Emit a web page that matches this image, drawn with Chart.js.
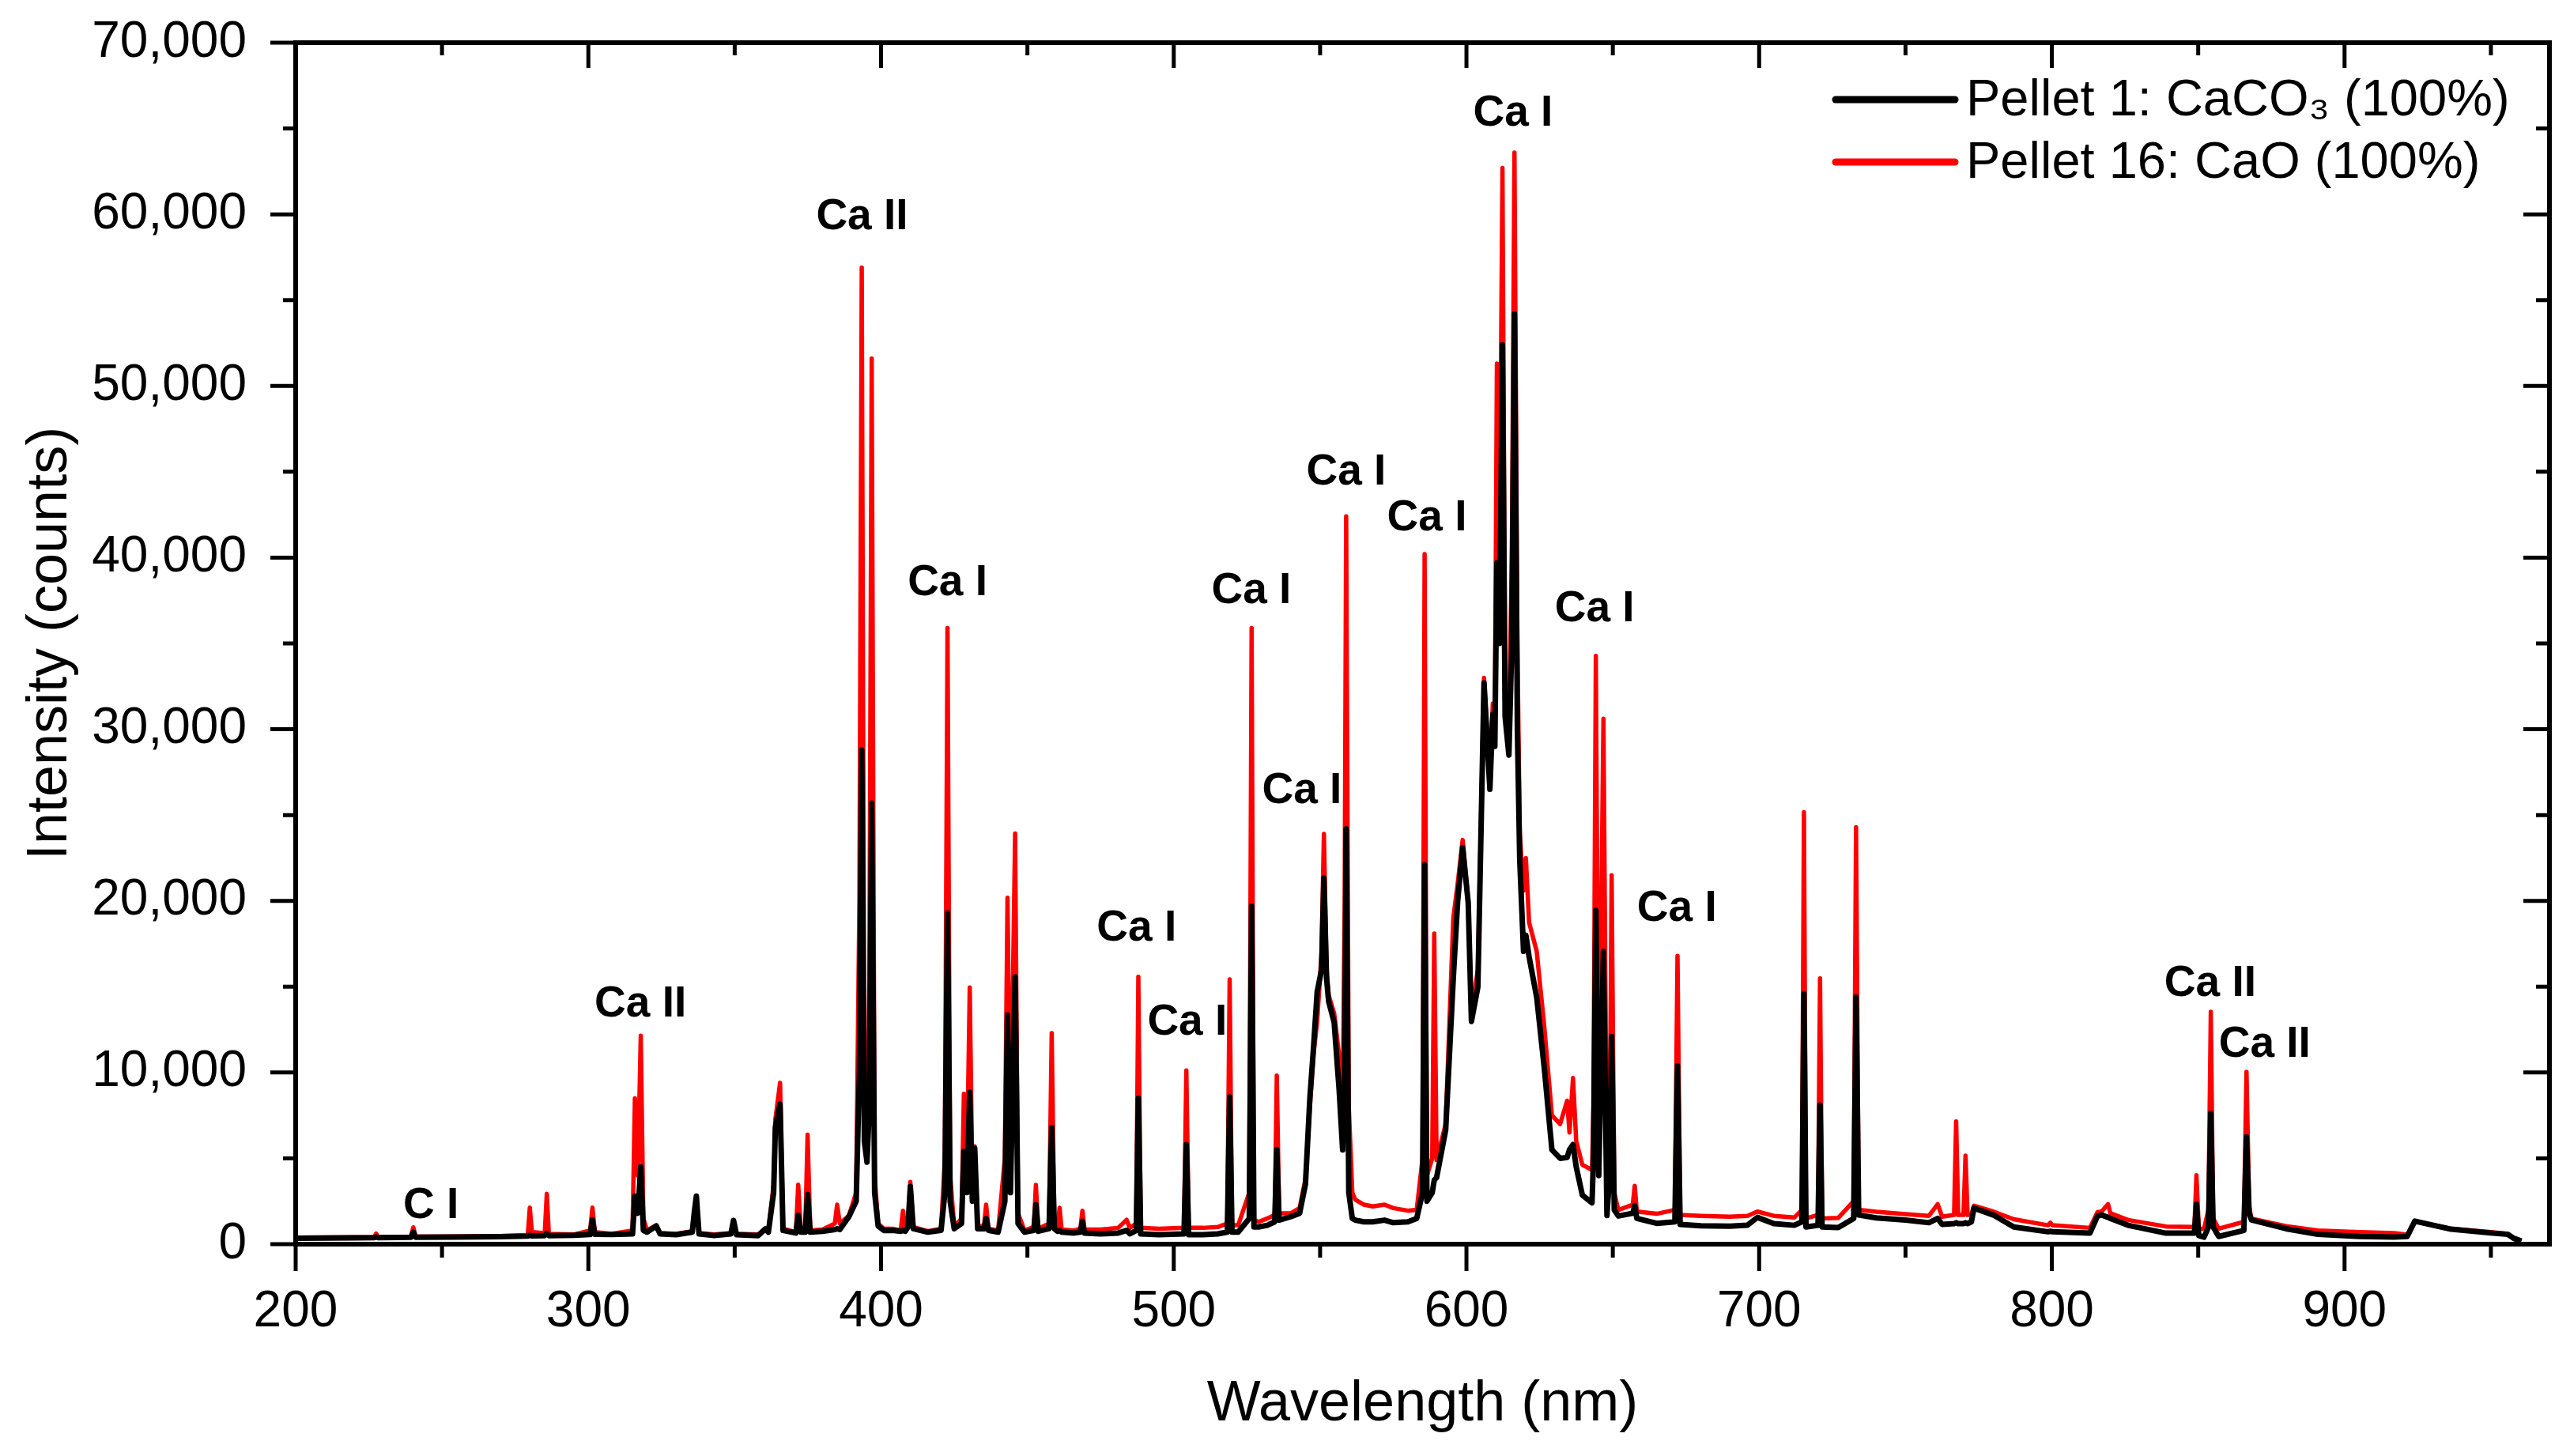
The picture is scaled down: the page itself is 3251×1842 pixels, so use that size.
<!DOCTYPE html>
<html>
<head>
<meta charset="utf-8">
<title>Espectros LIBS - pellets</title>
<script src="https://cdn.jsdelivr.net/npm/chart.js@4.4.1/dist/chart.umd.min.js"></script>
<style>
  html, body { margin: 0; padding: 0; background: #fff; }
  canvas { display: block; }
</style>
</head>
<body>
<canvas id="graficoEspectro" width="3251" height="1842"></canvas>
<script>
// comprimento de onda (nm)
const wavelengths = [
  200, 210, 220, 226.8, 227.5, 228.2, 235, 239.4, 240.2, 241,
  255, 270, 279.3, 280, 280.7, 285.1, 285.8, 286.5, 295, 300.6,
  301.4, 302.2, 308, 315.1, 315.9, 316.9, 317.9, 318.8, 320, 323.2,
  324.5, 330, 335.5, 336.2, 336.9, 337.8, 343, 348.7, 349.6, 350.6,
  358, 360.5, 361.5, 363.3, 363.9, 365.5, 366.5, 370.9, 371.7, 372.6,
  374.1, 374.9, 375.8, 380, 384.2, 385, 385.9, 389, 391.5, 392.6,
  393.4, 394.3, 395.2, 396.0, 396.8, 397.8, 399, 401, 404, 406.7,
  407.5, 408.3, 409.2, 410, 411, 416, 420.5, 421.8, 422.7, 423.6,
  425, 427.5, 428.3, 429.3, 430.3, 431.2, 432, 433, 435.2, 435.9,
  436.7, 440, 442.3, 443.2, 444.2, 445.8, 446.8, 449, 452.2, 452.9,
  453.7, 457.4, 458.3, 459.2, 460.3, 461, 461.7, 466, 468.1, 468.8,
  469.5, 475, 481, 483.9, 485, 487.2, 487.9, 488.7, 495, 503.5,
  504.3, 505.1, 510, 515, 518.3, 519.1, 519.9, 522, 525.8, 526.6,
  527.4, 529, 532, 534.5, 535.2, 536, 540, 543, 545, 546.5,
  547.7, 549, 550.5, 551.3, 552.2, 552.9, 554.8, 556.5, 557.7, 558.4,
  558.9, 559.8, 561, 562, 565, 568, 572, 575, 580, 583,
  585, 585.7, 586.5, 588.3, 589, 589.8, 592.9, 595.5, 597, 598.7,
  600.6, 601.7, 603.9, 606, 608, 609, 609.7, 610.4, 611.3, 612.3,
  613.2, 614.5, 615.5, 616.4, 617.4, 618.2, 619.5, 620.3, 621.4, 624,
  626.6, 629.2, 632, 634.4, 635.2, 636.4, 637.5, 639.6, 642.9, 643.4,
  644.2, 645.2, 646.8, 648, 648.9, 649.6, 650.5, 651.9, 656.8, 657.5,
  658.2, 665, 671.2, 672.1, 673, 680, 690, 696, 699.4, 705,
  712, 714.6, 715.3, 716, 720.1, 720.8, 721.5, 727, 732.3, 733.1,
  734, 740, 750, 758, 761, 762.5, 766.6, 767.3, 768, 769.8,
  770.5, 771.2, 772.5, 773.4, 780, 787, 798.7, 799.5, 800.2, 813,
  815.6, 817, 819.2, 820, 826, 839, 848.7, 849.4, 850.2, 852,
  853.5, 854.3, 855.1, 857, 865.6, 866.5, 867.4, 868.2, 880, 890.9,
  905, 916.9, 921.4, 924, 936.4, 950, 955.8, 957.8, 960.4
];

// Pellet 1: CaCO3 (100%) - linha preta
const pellet1Counts = [
  350, 360, 370, 380, 420, 380, 390, 400, 700, 400,
  410, 440, 470, 520, 480, 500, 620, 500, 520, 560,
  1420, 580, 560, 600, 2800, 1800, 4500, 800, 700, 1060,
  600, 550, 700, 1860, 2800, 600, 500, 600, 1380, 550,
  500, 890, 700, 3000, 6830, 8160, 800, 650, 1680, 700,
  700, 2890, 700, 750, 850, 900, 850, 1600, 2500, 10000,
  28800, 6000, 4780, 8000, 25700, 3000, 1060, 800, 800, 750,
  800, 750, 1000, 3360, 900, 700, 800, 3000, 19300, 2500,
  900, 1200, 5400, 3000, 8850, 2500, 5580, 900, 900, 1500,
  800, 700, 2500, 13360, 3000, 15580, 1200, 700, 800, 2300,
  750, 900, 6800, 900, 750, 800, 700, 650, 700, 1330,
  650, 600, 650, 800, 600, 800, 8500, 600, 550, 600,
  5800, 550, 550, 600, 700, 8580, 700, 700, 1500, 19700,
  1000, 1000, 1100, 1300, 5520, 1400, 1600, 1800, 3500, 8500,
  11330, 14690, 16000, 21330, 15500, 14160, 12920, 9000, 5490, 10000,
  24200, 3000, 1500, 1400, 1300, 1300, 1400, 1250, 1300, 1500,
  3000, 22100, 2500, 3000, 3730, 3880, 6650, 15480, 20000, 23110,
  19890, 12980, 14990, 32700, 26500, 30870, 29000, 39700, 35000, 52400,
  30750, 28500, 35000, 54200, 30000, 22400, 17060, 18000, 16750, 14380,
  10240, 5500, 5000, 5050, 5500, 5800, 4500, 2850, 2410, 5000,
  19440, 4000, 17050, 1670, 4000, 12100, 2000, 1640, 1800, 2240,
  1500, 1210, 1300, 10400, 1150, 1070, 1050, 1100, 1560, 1200,
  1100, 1300, 14600, 1000, 1100, 8100, 1000, 970, 1500, 14400,
  1700, 1530, 1400, 1250, 1500, 1150, 1200, 1250, 1200, 1200,
  1250, 1200, 1300, 2100, 1700, 1000, 720, 750, 720, 640,
  1640, 1700, 1560, 1500, 1100, 640, 650, 2330, 500, 410,
  1000, 7630, 1000, 450, 800, 6250, 1800, 1410, 900, 570,
  450, 410, 450, 1340, 870, 650, 570, 340, 180
];

// Pellet 16: CaO (100%) - linha vermelha
const pellet16Counts = [
  380, 390, 400, 410, 620, 410, 420, 440, 980, 440,
  450, 470, 520, 2130, 700, 650, 2930, 600, 560, 800,
  2130, 700, 600, 800, 8500, 4000, 12150, 1500, 800, 1100,
  650, 600, 750, 1860, 2800, 650, 560, 650, 1400, 600,
  560, 900, 750, 3500, 7270, 9400, 900, 700, 3460, 800,
  800, 6380, 800, 850, 1200, 2300, 1200, 1650, 3000, 20000,
  56900, 8000, 5500, 15000, 51600, 4000, 1200, 900, 900, 800,
  1950, 850, 1100, 3630, 1000, 750, 900, 5000, 35900, 4000,
  1000, 1500, 8760, 4000, 14960, 3500, 5700, 1000, 1100, 2300,
  900, 800, 5000, 20180, 5000, 23930, 1800, 800, 1000, 3450,
  900, 1200, 12300, 1300, 900, 2120, 850, 800, 900, 1950,
  850, 850, 950, 1420, 950, 1200, 15580, 950, 900, 950,
  10120, 950, 950, 1000, 1200, 15430, 1100, 1100, 3000, 35900,
  1400, 1300, 1500, 1700, 9820, 1800, 1800, 2100, 3800, 8000,
  10970, 13000, 17000, 23900, 16000, 14510, 13450, 11000, 8000, 20000,
  42400, 8000, 3000, 2600, 2300, 2200, 2300, 2100, 1950, 2000,
  5000, 40200, 4000, 5000, 18100, 4900, 7000, 19000, 21000, 23550,
  20000, 13500, 16000, 33000, 27000, 31500, 30000, 51300, 40000, 62700,
  33000, 29700, 40000, 63600, 35000, 24000, 20590, 22500, 18740, 17060,
  12650, 7500, 7000, 8360, 6500, 9680, 6000, 4620, 4330, 8000,
  34270, 6000, 30610, 3000, 6000, 21500, 3000, 1990, 2300, 3400,
  1900, 1770, 2000, 16800, 1700, 1650, 1600, 1650, 1900, 1650,
  1550, 2000, 25170, 1500, 1700, 15480, 1500, 1530, 2500, 24290,
  2000, 1890, 1750, 1650, 2330, 1600, 1700, 7150, 1700, 1700,
  5160, 1700, 1750, 2240, 1900, 1450, 1100, 1250, 1100, 950,
  1870, 1900, 2330, 1800, 1410, 1030, 1000, 4020, 900, 900,
  2000, 13540, 1500, 900, 1300, 10040, 2200, 1490, 1050, 800,
  700, 640, 550, 1340, 900, 700, 600, 360, 200
];

const seriesNames = ["Pellet 1: CaCO\u2083 (100%)", "Pellet 16: CaO (100%)"];
const seriesColors = ["#000000", "#ff0000"];

// identificação das linhas de emissão (centro do texto em nm / contagens)
const lineNames = ["C I", "Ca II", "Ca II", "Ca I", "Ca I", "Ca I", "Ca I", "Ca I",
  "Ca I", "Ca I", "Ca I", "Ca I", "Ca I", "Ca II", "Ca II"];
const lineNameNm = [246.2, 317.8, 393.5, 422.7, 487.3, 504.6, 526.5, 543.8,
  558.9, 586.5, 615.9, 643.8, 671.9, 854.1, 872.7];
const lineNameCounts = [2210, 13950, 59850, 38490, 18370, 12890, 38030, 26380,
  44940, 42270, 65880, 36970, 19520, 15150, 11600];

const xMajorTicks = [200, 300, 400, 500, 600, 700, 800, 900];
const xMinorTicks = [250, 350, 450, 550, 650, 750, 850, 950];
const yMajorTicks = [0, 10000, 20000, 30000, 40000, 50000, 60000, 70000];
const yMinorTicks = [5000, 15000, 25000, 35000, 45000, 55000, 65000];

const fonte = "'Liberation Sans', Arial, sans-serif";

// moldura com marcas de escala nos quatro lados
const moldura = {
  id: "moldura",
  afterDraw(chart) {
    const { ctx, chartArea: a, scales } = chart;
    ctx.save();
    ctx.strokeStyle = "#000";
    ctx.lineWidth = 6;
    ctx.strokeRect(a.left, a.top, a.right - a.left, a.bottom - a.top);
    ctx.lineWidth = 5;
    ctx.beginPath();
    const marca = (x1, y1, x2, y2) => { ctx.moveTo(x1, y1); ctx.lineTo(x2, y2); };
    xMajorTicks.forEach(v => {
      const x = scales.x.getPixelForValue(v);
      marca(x, a.bottom, x, a.bottom + 34);
      marca(x, a.top, x, a.top + 32);
    });
    xMinorTicks.forEach(v => {
      const x = scales.x.getPixelForValue(v);
      marca(x, a.bottom, x, a.bottom + 17);
      marca(x, a.top, x, a.top + 16);
    });
    yMajorTicks.forEach(v => {
      const y = scales.y.getPixelForValue(v);
      marca(a.left - 32, y, a.left, y);
      marca(a.right - 33, y, a.right, y);
    });
    yMinorTicks.forEach(v => {
      const y = scales.y.getPixelForValue(v);
      marca(a.left - 16, y, a.left, y);
      marca(a.right - 17, y, a.right, y);
    });
    ctx.stroke();
    ctx.restore();
  }
};

// nomes das linhas sobre os picos
const rotulos = {
  id: "rotulos",
  afterDatasetsDraw(chart) {
    const { ctx, scales } = chart;
    ctx.save();
    ctx.fillStyle = "#000";
    ctx.font = "bold 55px " + fonte;
    ctx.textAlign = "center";
    ctx.textBaseline = "middle";
    lineNames.forEach((nome, i) => {
      ctx.fillText(nome, scales.x.getPixelForValue(lineNameNm[i]), scales.y.getPixelForValue(lineNameCounts[i]));
    });
    ctx.restore();
  }
};

// legenda no canto superior direito
const legenda = {
  id: "legenda",
  afterDraw(chart) {
    const { ctx, chartArea: a } = chart;
    ctx.save();
    ctx.font = "65px " + fonte;
    ctx.textBaseline = "middle";
    ctx.textAlign = "left";
    chart.data.datasets.forEach((ds, i) => {
      const y = a.top + 72 + i * 79;
      const x0 = a.right - 903;
      ctx.strokeStyle = ds.borderColor;
      ctx.lineWidth = 9;
      ctx.lineCap = "round";
      ctx.beginPath();
      ctx.moveTo(x0, y);
      ctx.lineTo(x0 + 151, y);
      ctx.stroke();
      ctx.fillStyle = "#000";
      ctx.fillText(ds.label, x0 + 165, y + 2);
    });
    ctx.restore();
  }
};

function montarSerie(valores) {
  return wavelengths.map((w, i) => ({ x: w, y: valores[i] }));
}

new Chart(document.getElementById("graficoEspectro"), {
  type: "line",
  data: {
    datasets: [
      {
        label: seriesNames[0],
        data: montarSerie(pellet1Counts),
        borderColor: seriesColors[0],
        borderWidth: 7,
        borderJoinStyle: "round",
        pointRadius: 0,
        tension: 0,
        order: 0,
      },
      {
        label: seriesNames[1],
        data: montarSerie(pellet16Counts),
        borderColor: seriesColors[1],
        borderWidth: 5.5,
        borderJoinStyle: "round",
        pointRadius: 0,
        tension: 0,
        order: 1,
      },
    ],
  },
  options: {
    responsive: false,
    devicePixelRatio: 1,
    animation: false,
    layout: { padding: { top: 54, right: 26, bottom: 0, left: 0 } },
    plugins: { legend: { display: false }, tooltip: { enabled: false } },
    scales: {
      x: {
        type: "linear",
        min: 200,
        max: 970,
        afterFit(s) { s.height = 268; s.paddingLeft = 0; s.paddingRight = 0; },
        afterBuildTicks(s) { s.ticks = xMajorTicks.map(v => ({ value: v })); },
        grid: { display: false, drawTicks: false },
        border: { display: false },
        ticks: {
          padding: 48,
          color: "#000",
          maxRotation: 0,
          autoSkip: false,
          font: { family: fonte, size: 64 },
          callback: v => String(v),
        },
        title: {
          display: true,
          text: "Wavelength (nm)",
          color: "#000",
          font: { family: fonte, size: 72 },
          padding: { top: 0, bottom: 22 },
        },
      },
      y: {
        type: "linear",
        min: 0,
        max: 70000,
        afterFit(s) { s.width = 374; s.paddingTop = 0; s.paddingBottom = 0; },
        afterBuildTicks(s) { s.ticks = yMajorTicks.map(v => ({ value: v })); },
        grid: { display: false, drawTicks: false },
        border: { display: false },
        ticks: {
          padding: 62,
          color: "#000",
          autoSkip: false,
          font: { family: fonte, size: 64 },
          callback: v => Number(v).toLocaleString("en-US"),
        },
        title: {
          display: true,
          text: "Intensity (counts)",
          color: "#000",
          font: { family: fonte, size: 72 },
          padding: { top: 21, bottom: 0 },
        },
      },
    },
  },
  plugins: [moldura, rotulos, legenda],
});
</script>
</body>
</html>
